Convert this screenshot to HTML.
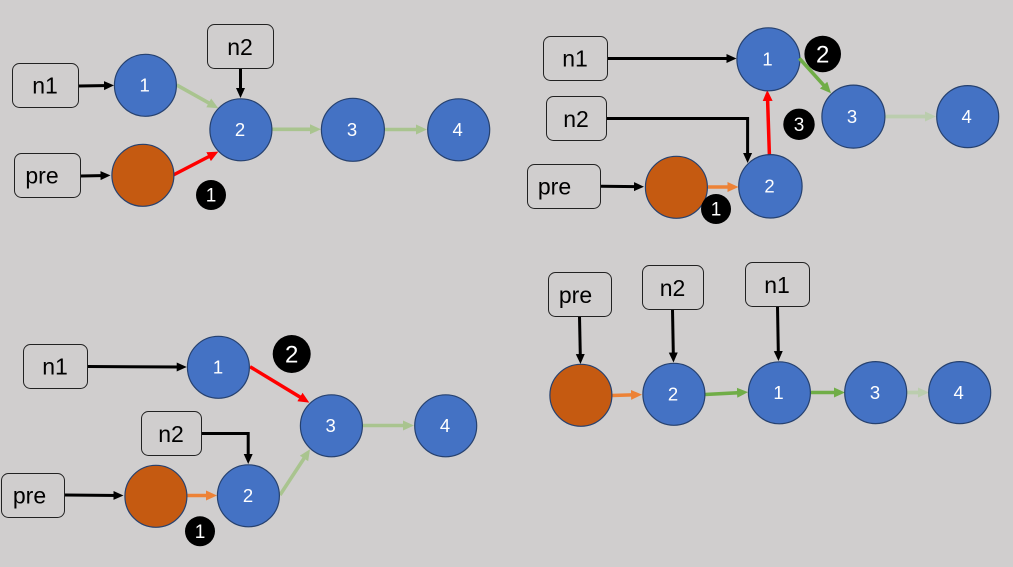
<!DOCTYPE html>
<html><head><meta charset="utf-8"><style>
html,body{margin:0;padding:0;background:#d0cece;width:1013px;height:567px;overflow:hidden}
svg{display:block}
text{font-family:"Liberation Sans",sans-serif;text-anchor:middle}
.l{font-size:23px;fill:#000}
.d{font-size:18.5px;fill:#fff}
rect{fill:none;stroke:#222;stroke-width:1}
.n{fill:#4472c4;stroke:#26416f;stroke-width:1.2;transform:translate(.4px,.3px)}
.o{fill:#c55a11;stroke:#26416f;stroke-width:1.2;transform:translate(.4px,.3px)}
line,polyline{fill:none}
.k{stroke:#000;stroke-width:3;marker-end:url(#mk)}
.r{stroke:#f00;stroke-width:3.5;marker-end:url(#mr)}
.g{stroke:#a9c48f;stroke-width:3.6;marker-end:url(#mg)}
.v{stroke:#70ad47;stroke-width:3.6;marker-end:url(#mv)}
.p{stroke:#bbcdae;stroke-width:3.8;marker-end:url(#mp)}
.a{stroke:#ed8236;stroke-width:3.4;marker-end:url(#ma)}
</style></head><body>
<svg width="1013" height="567" viewBox="0 0 1013 567" xmlns="http://www.w3.org/2000/svg">
<defs>
<marker id="mk" markerUnits="userSpaceOnUse" markerWidth="10" markerHeight="10" refX="6" refY="5" orient="auto"><path d="M0 .5L10 5L0 9.5z" fill="#000"/></marker>
<marker id="mr" markerUnits="userSpaceOnUse" markerWidth="11" markerHeight="11" refX="7" refY="5.5" orient="auto"><path d="M0 .5L11 5.5L0 10.5z" fill="#f00"/></marker>
<marker id="mg" markerUnits="userSpaceOnUse" markerWidth="11" markerHeight="11" refX="7" refY="5.5" orient="auto"><path d="M0 .5L11 5.5L0 10.5z" fill="#a9c48f"/></marker>
<marker id="mv" markerUnits="userSpaceOnUse" markerWidth="11" markerHeight="11" refX="7" refY="5.5" orient="auto"><path d="M0 .5L11 5.5L0 10.5z" fill="#70ad47"/></marker>
<marker id="mp" markerUnits="userSpaceOnUse" markerWidth="11" markerHeight="11" refX="7" refY="5.5" orient="auto"><path d="M0 .5L11 5.5L0 10.5z" fill="#bbcdae"/></marker>
<marker id="ma" markerUnits="userSpaceOnUse" markerWidth="11" markerHeight="11" refX="7" refY="5.5" orient="auto"><path d="M0 .5L11 5.5L0 10.5z" fill="#ed8236"/></marker>
</defs>
<rect x="0" y="0" width="1013" height="567" style="fill:#d0cece;stroke:none"/>

<!-- Panel 1 -->
<line class="k" x1="79" y1="86" x2="110" y2="85.5"/>
<line class="k" x1="81" y1="176" x2="106.5" y2="175.5"/>
<line class="k" x1="240.5" y1="68" x2="240.5" y2="94"/>
<line class="g" x1="176.7" y1="85" x2="214.8" y2="106.3"/>
<line class="r" x1="173.3" y1="175" x2="214.8" y2="153.5"/>
<line class="g" x1="272" y1="129.3" x2="317" y2="129.3"/>
<line class="g" x1="385" y1="129.5" x2="423" y2="129.5"/>
<rect x="12.5" y="63.5" width="66" height="44" rx="7"/>
<rect x="14.5" y="153.5" width="66" height="44" rx="7"/>
<rect x="207.5" y="24.5" width="66" height="44" rx="7"/>
<text class="l" x="45" y="93.5">n1</text>
<text class="l" x="42" y="183.5">pre</text>
<text class="l" x="240" y="55">n2</text>
<circle class="n" cx="145" cy="85" r="31"/>
<circle class="o" cx="142.5" cy="175" r="31"/>
<circle class="n" cx="240.5" cy="129.5" r="31"/>
<circle class="n" cx="352.5" cy="129.5" r="31.5"/>
<circle class="n" cx="458.3" cy="129.5" r="31"/>
<text class="d" x="144.7" y="91.5">1</text>
<text class="d" x="240" y="136">2</text>
<text class="d" x="352" y="136">3</text>
<text class="d" x="457.7" y="136">4</text>
<circle cx="211" cy="195" r="15"/>
<text class="d" x="211" y="201.5" style="font-size:19px">1</text>

<!-- Panel 2 -->
<line class="k" x1="608" y1="58.5" x2="732.5" y2="58.5"/>
<polyline class="k" points="607,118.5 747.6,118.5 747.6,159"/>
<line class="k" x1="601" y1="186.2" x2="640" y2="186.7"/>
<line class="a" x1="708" y1="187" x2="734.5" y2="187"/>
<line class="r" x1="769.4" y1="155" x2="767.4" y2="94"/>
<line class="p" x1="885" y1="116.5" x2="932" y2="116.5"/>
<rect x="543.5" y="36.5" width="64" height="44" rx="7"/>
<rect x="546.5" y="96.5" width="60" height="44" rx="7"/>
<rect x="527.5" y="164.5" width="73" height="44" rx="7"/>
<text class="l" x="575" y="66.5">n1</text>
<text class="l" x="576" y="127">n2</text>
<text class="l" x="554.5" y="194.5">pre</text>
<circle class="n" cx="768" cy="59" r="31.5"/>
<circle class="n" cx="853" cy="116.3" r="31.5"/>
<circle class="n" cx="967.3" cy="116.3" r="31"/>
<circle class="n" cx="770" cy="186" r="31.7"/>
<circle class="o" cx="676" cy="187" r="31"/>
<text class="d" x="767.5" y="65.5">1</text>
<text class="d" x="852" y="122.8">3</text>
<text class="d" x="966.7" y="122.8">4</text>
<text class="d" x="769.5" y="192.5">2</text>
<circle cx="822.7" cy="54" r="18.3"/>
<circle cx="799" cy="124.3" r="15.7"/>
<circle cx="716" cy="209" r="15"/>
<text x="822.7" y="62.5" style="font-size:24px;fill:#fff">2</text>
<text x="799" y="131" style="font-size:19px;fill:#fff">3</text>
<text x="716" y="215.5" style="font-size:19px;fill:#fff">1</text>
<line class="v" x1="799.3" y1="58.3" x2="828.3" y2="90.3"/>

<!-- Panel 3 -->
<line class="k" x1="88" y1="366.5" x2="182.7" y2="367"/>
<line class="k" x1="65" y1="495" x2="119.5" y2="495.5"/>
<polyline class="k" points="202,433.5 248.2,433.5 248.2,460"/>
<line class="a" x1="187" y1="495.5" x2="213" y2="495.5"/>
<line class="g" x1="280" y1="495" x2="307.8" y2="452.6"/>
<line class="r" x1="250" y1="366.7" x2="305.9" y2="400.6"/>
<line class="g" x1="363" y1="425.5" x2="410" y2="425.5"/>
<rect x="23.5" y="344.5" width="64" height="44" rx="7"/>
<rect x="141.5" y="411.5" width="60" height="44" rx="7"/>
<rect x="1.5" y="473.5" width="63" height="44" rx="7"/>
<text class="l" x="55" y="374.5">n1</text>
<text class="l" x="171" y="442">n2</text>
<text class="l" x="29.5" y="503.5">pre</text>
<circle class="n" cx="218" cy="367" r="31"/>
<circle class="n" cx="331" cy="425.5" r="31"/>
<circle class="n" cx="445.3" cy="425.5" r="31"/>
<circle class="n" cx="248" cy="495.5" r="31"/>
<circle class="o" cx="155.5" cy="496" r="31"/>
<text class="d" x="218" y="373.5">1</text>
<text class="d" x="330.7" y="432">3</text>
<text class="d" x="445" y="432">4</text>
<text class="d" x="248" y="502">2</text>
<circle cx="291.7" cy="354" r="19"/>
<circle cx="200" cy="531.3" r="15"/>
<text x="291.7" y="362.5" style="font-size:24px;fill:#fff">2</text>
<text x="200" y="538" style="font-size:19px;fill:#fff">1</text>

<!-- Panel 4 -->
<line class="k" x1="579.5" y1="316.5" x2="580.4" y2="360"/>
<line class="k" x1="672.5" y1="309.5" x2="673.4" y2="358.5"/>
<line class="k" x1="777.5" y1="306.5" x2="778.4" y2="357"/>
<line class="a" x1="612" y1="395.5" x2="638" y2="394.7"/>
<line class="v" x1="705" y1="394.5" x2="744" y2="392.4"/>
<line class="v" x1="811" y1="392.5" x2="841" y2="392.5"/>
<line class="p" x1="907" y1="392.5" x2="925" y2="392.5"/>
<rect x="548.5" y="272.5" width="63" height="44" rx="7"/>
<rect x="642.5" y="265.5" width="61" height="44" rx="7"/>
<rect x="745.5" y="262.5" width="64" height="44" rx="7"/>
<text class="l" x="575.5" y="303">pre</text>
<text class="l" x="672.5" y="296">n2</text>
<text class="l" x="777" y="293">n1</text>
<circle class="o" cx="580.5" cy="395" r="31"/>
<circle class="n" cx="673.5" cy="394" r="31"/>
<circle class="n" cx="779" cy="392.5" r="31"/>
<circle class="n" cx="875.3" cy="392.3" r="31"/>
<circle class="n" cx="959.3" cy="392.3" r="31"/>
<text class="d" x="673" y="400.5">2</text>
<text class="d" x="778.5" y="399">1</text>
<text class="d" x="875" y="399">3</text>
<text class="d" x="958.7" y="399">4</text>
</svg>
</body></html>
